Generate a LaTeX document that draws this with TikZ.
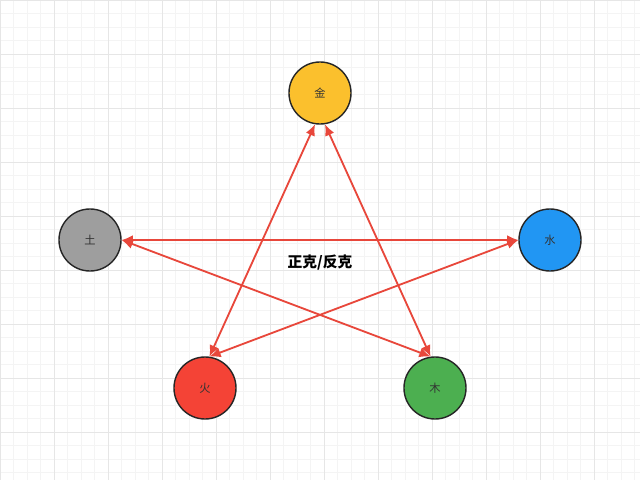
\documentclass[tikz,border=0pt]{standalone}
\usepackage{fontspec}
\newfontfamily\cjk{Noto Sans CJK SC}
\usetikzlibrary{arrows.meta,positioning}
\definecolor{jincolor}{HTML}{FBC02D}
\definecolor{tucolor}{HTML}{9E9E9E}
\definecolor{shuicolor}{HTML}{2196F3}
\definecolor{huocolor}{HTML}{F44336}
\definecolor{mucolor}{HTML}{4CAF50}
\definecolor{kered}{HTML}{E8473B}
\definecolor{gridminor}{HTML}{F4F4F4}
\definecolor{gridmajor}{HTML}{E6E6E6}
\begin{document}
\begin{tikzpicture}
                %% setup
                [
                    x=0.025cm, y=-0.025cm,
                    elementnode/.style={circle, draw=black!85, fill=#1, line width=1pt, minimum size=1.55cm, inner sep=0pt, text=black!80, font=\cjk\fontsize{8}{9}\selectfont},
                    kearrow/.style={{Latex[length=8pt,width=7pt]}-{Latex[length=8pt,width=7pt]}, draw=kered, line width=1.3pt},
                    minorline/.style={draw=gridminor, line width=0.5pt},
                    majorline/.style={draw=gridmajor, line width=0.5pt},
                ]
                    \useasboundingbox (0,0) rectangle (640,480);
                    \fill[white] (0,0) rectangle (640,480);
                    %% Grid
                    \foreach \i in {0,...,47} \draw[minorline] (\i*13.5,0) -- (\i*13.5,480);
                    \foreach \j in {0,...,35} \draw[minorline] (0,\j*13.5) -- (640,\j*13.5);
                    \foreach \i in {0,...,11} \draw[majorline] (\i*54,0) -- (\i*54,480);
                    \foreach \j in {0,...,8} \draw[majorline] (0,\j*54) -- (640,\j*54);

                    %% Nodes
                    \node [elementnode=jincolor] (jin) at (320,93) {金};
                    \node [elementnode=tucolor] (tu) at (90,240) {土};
                    \node [elementnode=shuicolor] (shui) at (550,240) {水};
                    \node [elementnode=huocolor] (huo) at (205,388) {火};
                    \node [elementnode=mucolor] (mu) at (435,388) {木};
                    \node [font=\cjk\bfseries\fontsize{10.5}{12}\selectfont] (ketext) at (320,263) {正克/反克};

                    %% Lines
                    \draw[kearrow] (jin.-99) -- (huo.82);
                    \draw[kearrow] (jin.-81) -- (mu.98);
                    \draw[kearrow] (tu.east) -- (shui.west);
                    \draw[kearrow] (tu.east) -- (mu.98);
                    \draw[kearrow] (shui.west) -- (huo.82);
                \end{tikzpicture}
\end{document}
